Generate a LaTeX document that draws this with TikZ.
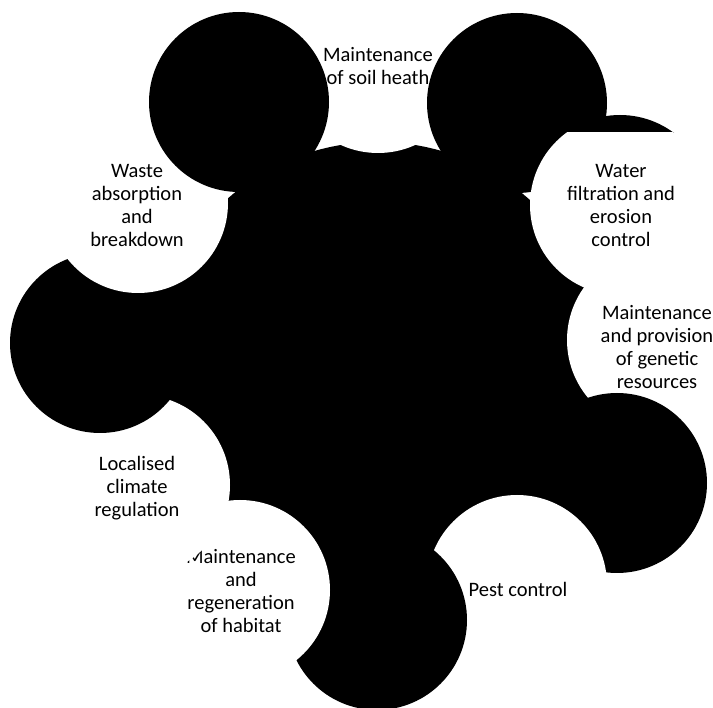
\documentclass[tikz,border=0pt]{standalone}
\usepackage{fontspec}
\setmainfont{Carlito}
\begin{document}
\begin{tikzpicture}[x=1pt,y=-1pt]
\tikzset{
  blk/.style={fill=black},
  wht/.style={fill=white},
  lbl/.style={font=\fontsize{20.5}{23}\selectfont, align=center, inner sep=0pt, text=black}
}
\clip (0,0) rectangle (713,708);
\fill[white] (0,0) rectangle (713,708);
% central body
\fill[blk] (378,370) circle[radius=228pt];
% lower right chain
\fill[wht] (657,340) circle[radius=90pt];
\node[lbl] (gen) at (657,347) {Maintenance\\and provision\\of genetic\\resources};
\fill[blk] (617,483) circle[radius=90pt];
\fill[wht] (517,585) circle[radius=90pt];
\node[lbl] (pest) at (518,589) {Pest control};
\fill[blk] (377,620) circle[radius=90pt];
\fill[wht] (240,590) circle[radius=90pt];
\node[lbl] (hab) at (241,591) {Maintenance\\and\\regeneration\\of habitat};
% left chain
\fill[wht] (140,485) circle[radius=90pt];
\node[lbl] (clim) at (137,488) {Localised\\climate\\regulation};
\fill[blk] (100,343) circle[radius=90pt];
\fill[wht] (138,203) circle[radius=90pt];
\node[lbl] (waste) at (137,206) {Waste\\absorption\\and\\breakdown};
% top
\fill[wht] (378,63) circle[radius=90pt];
\node[lbl] (soil) at (378,66) {Maintenance\\of soil heath};
\fill[blk] (239,102) circle[radius=90pt];
\fill[blk] (517,103) circle[radius=90pt];
\begin{scope}
  \clip (0,0) rectangle (713,133);
  \fill[blk] (620,205) circle[radius=90pt];
\end{scope}
\begin{scope}
  \clip (0,133) rectangle (713,708);
  \fill[wht] (620,205) circle[radius=90pt];
\end{scope}
\node[lbl] (water) at (621,206) {Water\\filtration and\\erosion\\control};
\end{tikzpicture}
\end{document}
